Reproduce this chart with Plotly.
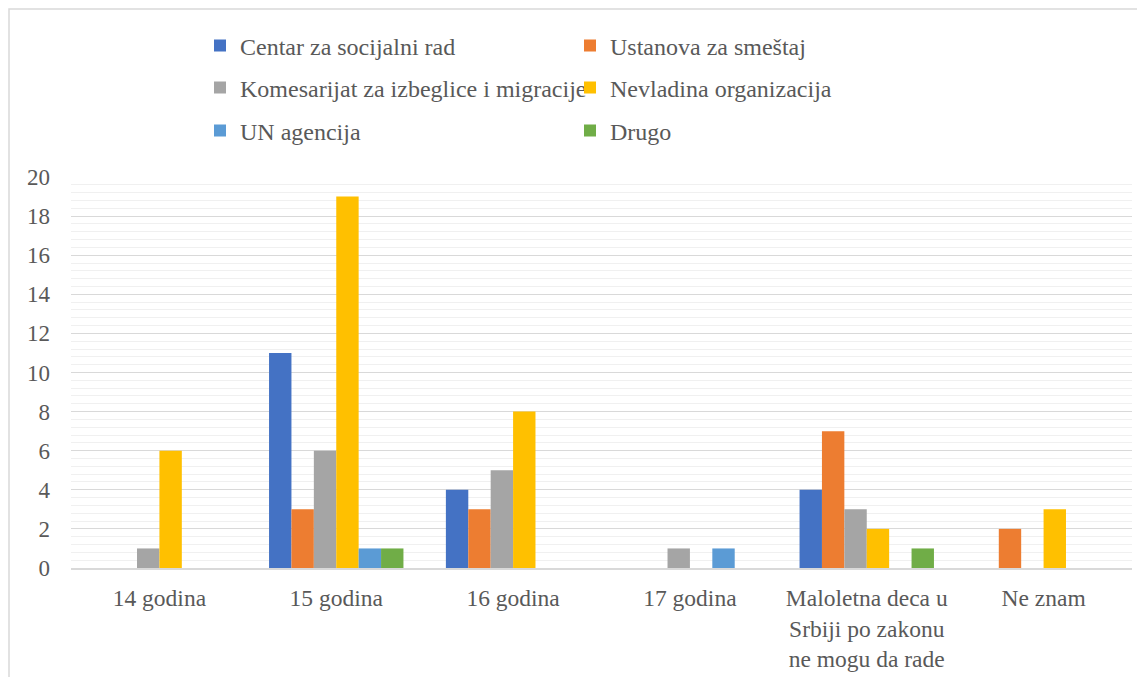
import plotly.graph_objects as go

categories = ["14 godina", "15 godina", "16 godina", "17 godina",
              "Maloletna deca u<br>Srbiji po zakonu<br>ne mogu da rade", "Ne znam"]

series_names = ["Centar za socijalni rad", "Ustanova za smeštaj",
                "Komesarijat za izbeglice i migracije", "Nevladina organizacija",
                "UN agencija", "Drugo"]

centar = [0, 11, 4, 0, 4, 0]
ustanova = [0, 3, 3, 0, 7, 2]
komesarijat = [1, 6, 5, 1, 3, 0]
nevladina = [6, 19, 8, 0, 2, 3]
un_agencija = [0, 1, 0, 1, 0, 0]
drugo = [0, 1, 0, 0, 1, 0]

colors = ["#4472C4", "#ED7D31", "#A5A5A5", "#FFC000", "#5B9BD5", "#70AD47"]
values = [centar, ustanova, komesarijat, nevladina, un_agencija, drugo]
legend_ids = ["legend", "legend", "legend2", "legend2", "legend3", "legend3"]

FONT = "Liberation Serif"
GREY = "#595959"

fig = go.Figure()
for name, vals, col, lg in zip(series_names, values, colors, legend_ids):
    fig.add_trace(go.Bar(x=categories, y=vals, name=name, marker_color=col,
                         marker_line_width=0, legend=lg))

leg_common = dict(orientation="h", xanchor="left", yanchor="middle",
                  entrywidth=325, entrywidthmode="pixels",
                  font=dict(family=FONT, size=24, color=GREY),
                  bgcolor="rgba(0,0,0,0)", itemwidth=30, traceorder="normal")

OFF = 8  # page body margin
PL, PR, PT, PB = 71, 1132, 177, 568   # plot area on screen
L, R, T, B = PL - OFF, 1145 - PR + OFF, PT - OFF, 677 - PB + OFF
H = float(PB - PT)
W = float(PR - PL)
def py(pix):
    return (PB - pix) / H
def px(pix):
    return (pix - PL) / W

LX = px(200)

fig.update_layout(
    width=1145, height=677,
    margin=dict(l=L, r=R, t=T, b=B, autoexpand=False),
    paper_bgcolor="white", plot_bgcolor="white",
    barmode="group", bargap=0.24, bargroupgap=0,
    font=dict(family=FONT, size=23.5, color=GREY),
    legend=dict(x=LX, y=py(46), **leg_common),
    legend2=dict(x=LX, y=py(88), **leg_common),
    legend3=dict(x=LX, y=py(131), **leg_common),
    xaxis=dict(showgrid=False, showline=True, linecolor="#d9d9d9", linewidth=1.5,
               ticks="", tickfont=dict(family=FONT, size=23.5, color=GREY),
               ticklabelstandoff=8),
    yaxis=dict(range=[0, 20], dtick=2, showgrid=True, gridcolor="#d9d9d9", gridwidth=1.3,
               zeroline=False, showline=False, ticks="",
               tickfont=dict(family=FONT, size=23, color=GREY),
               ticklabelstandoff=20,
               minor=dict(dtick=0.4, showgrid=True, gridcolor="#f0f0f0", gridwidth=1.3)),
    shapes=[dict(type="rect", xref="paper", yref="paper",
                 x0=px(9), x1=px(1140),
                 y0=py(690), y1=py(9),
                 line=dict(color="#d9d9d9", width=1.5), fillcolor="rgba(0,0,0,0)",
                 layer="below")],
)

fig.write_html("out.html")
